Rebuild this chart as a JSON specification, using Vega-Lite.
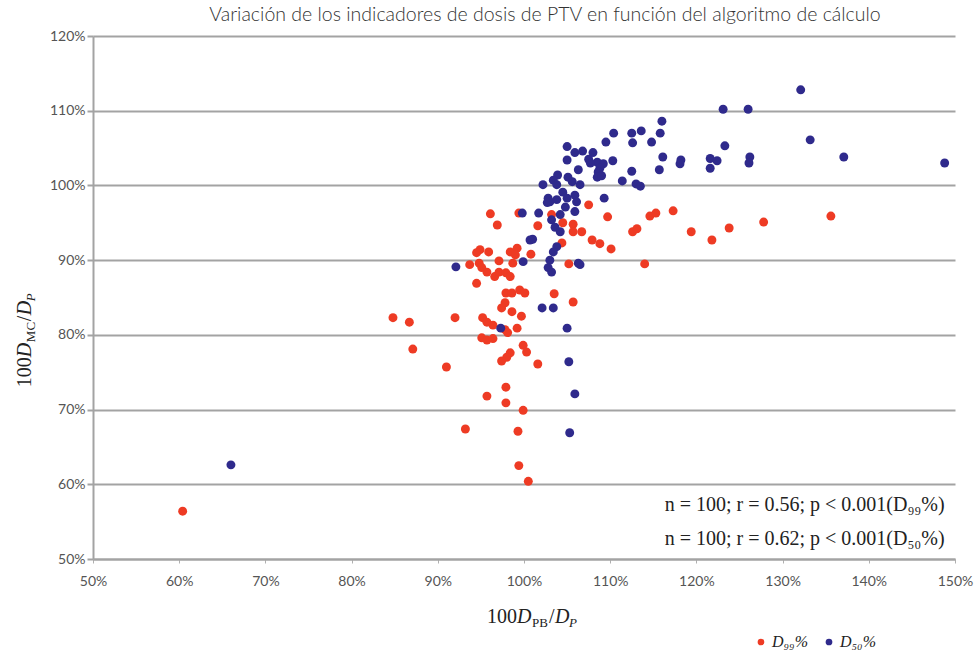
{
  "$schema": "https://vega.github.io/schema/vega-lite/v6.json",
  "width": 862,
  "height": 523,
  "autosize": {"type": "none"},
  "padding": {"left": 93, "top": 36, "right": 24, "bottom": 95},
  "background": "white",
  "title": {
    "text": "Variación de los indicadores de dosis de PTV en función del algoritmo de cálculo",
    "font": "Lato", "fontSize": 19.5, "fontWeight": 300, "color": "#333333",
    "anchor": "middle", "offset": 4, "dx": 21
  },
  "config": {
    "view": {"stroke": null},
    "axisX": {
      "grid": false, "tickCount": 10, "domainColor": "#a3a3a3", "domainWidth": 2,
      "tickColor": "#b0b0b0", "tickSize": 4, "labelPadding": 11,
      "labelFont": "Lato", "labelFontSize": 14, "labelColor": "#555555",
      "labelExpr": "datum.value + '%'", "labelFlush": false
    },
    "axisY": {
      "grid": true, "gridColor": "#a3a3a3", "gridWidth": 2, "tickCount": 7,
      "domainColor": "#a3a3a3", "domainWidth": 2,
      "tickColor": "#a3a3a3", "tickSize": 6, "tickWidth": 2, "labelPadding": 2,
      "labelFont": "Lato", "labelFontSize": 14, "labelColor": "#555555",
      "labelExpr": "datum.value + '%'"
    }
  },
  "layer": [
    {
      "data": {"values": [
        {"x": 60.4, "y": 56.4, "s": "D99%"},
        {"x": 84.8, "y": 82.3, "s": "D99%"},
        {"x": 86.7, "y": 81.7, "s": "D99%"},
        {"x": 87.1, "y": 78.1, "s": "D99%"},
        {"x": 91.0, "y": 75.7, "s": "D99%"},
        {"x": 92.0, "y": 82.3, "s": "D99%"},
        {"x": 93.2, "y": 67.4, "s": "D99%"},
        {"x": 96.1, "y": 96.2, "s": "D99%"},
        {"x": 96.9, "y": 94.7, "s": "D99%"},
        {"x": 99.4, "y": 96.3, "s": "D99%"},
        {"x": 101.6, "y": 94.6, "s": "D99%"},
        {"x": 103.2, "y": 96.1, "s": "D99%"},
        {"x": 104.5, "y": 95.0, "s": "D99%"},
        {"x": 105.7, "y": 94.8, "s": "D99%"},
        {"x": 105.7, "y": 93.8, "s": "D99%"},
        {"x": 106.7, "y": 93.8, "s": "D99%"},
        {"x": 107.5, "y": 97.4, "s": "D99%"},
        {"x": 109.7, "y": 95.8, "s": "D99%"},
        {"x": 107.9, "y": 92.7, "s": "D99%"},
        {"x": 108.8, "y": 92.2, "s": "D99%"},
        {"x": 110.1, "y": 91.5, "s": "D99%"},
        {"x": 104.4, "y": 92.3, "s": "D99%"},
        {"x": 112.6, "y": 93.8, "s": "D99%"},
        {"x": 113.1, "y": 94.2, "s": "D99%"},
        {"x": 114.6, "y": 95.9, "s": "D99%"},
        {"x": 115.3, "y": 96.3, "s": "D99%"},
        {"x": 117.3, "y": 96.6, "s": "D99%"},
        {"x": 119.4, "y": 93.8, "s": "D99%"},
        {"x": 114.0, "y": 89.5, "s": "D99%"},
        {"x": 121.8, "y": 92.7, "s": "D99%"},
        {"x": 123.8, "y": 94.3, "s": "D99%"},
        {"x": 127.8, "y": 95.1, "s": "D99%"},
        {"x": 135.6, "y": 95.9, "s": "D99%"},
        {"x": 94.9, "y": 91.4, "s": "D99%"},
        {"x": 95.9, "y": 91.1, "s": "D99%"},
        {"x": 94.5, "y": 91.0, "s": "D99%"},
        {"x": 98.4, "y": 91.1, "s": "D99%"},
        {"x": 99.2, "y": 91.6, "s": "D99%"},
        {"x": 99.0, "y": 90.7, "s": "D99%"},
        {"x": 100.8, "y": 90.8, "s": "D99%"},
        {"x": 97.1, "y": 89.9, "s": "D99%"},
        {"x": 98.7, "y": 89.6, "s": "D99%"},
        {"x": 93.7, "y": 89.4, "s": "D99%"},
        {"x": 94.8, "y": 89.6, "s": "D99%"},
        {"x": 95.1, "y": 89.0, "s": "D99%"},
        {"x": 95.7, "y": 88.4, "s": "D99%"},
        {"x": 96.6, "y": 87.8, "s": "D99%"},
        {"x": 97.1, "y": 88.4, "s": "D99%"},
        {"x": 97.9, "y": 88.3, "s": "D99%"},
        {"x": 98.4, "y": 87.8, "s": "D99%"},
        {"x": 94.5, "y": 86.9, "s": "D99%"},
        {"x": 105.2, "y": 89.5, "s": "D99%"},
        {"x": 97.9, "y": 85.6, "s": "D99%"},
        {"x": 98.6, "y": 85.6, "s": "D99%"},
        {"x": 99.5, "y": 86.0, "s": "D99%"},
        {"x": 100.1, "y": 85.6, "s": "D99%"},
        {"x": 103.5, "y": 85.5, "s": "D99%"},
        {"x": 105.7, "y": 84.4, "s": "D99%"},
        {"x": 97.8, "y": 84.3, "s": "D99%"},
        {"x": 97.4, "y": 83.6, "s": "D99%"},
        {"x": 98.6, "y": 83.1, "s": "D99%"},
        {"x": 99.7, "y": 82.5, "s": "D99%"},
        {"x": 95.2, "y": 82.3, "s": "D99%"},
        {"x": 95.7, "y": 81.7, "s": "D99%"},
        {"x": 96.4, "y": 81.3, "s": "D99%"},
        {"x": 97.8, "y": 80.7, "s": "D99%"},
        {"x": 98.1, "y": 80.3, "s": "D99%"},
        {"x": 99.2, "y": 80.9, "s": "D99%"},
        {"x": 95.1, "y": 79.6, "s": "D99%"},
        {"x": 95.7, "y": 79.3, "s": "D99%"},
        {"x": 96.4, "y": 79.5, "s": "D99%"},
        {"x": 99.9, "y": 78.6, "s": "D99%"},
        {"x": 100.3, "y": 77.7, "s": "D99%"},
        {"x": 98.4, "y": 77.6, "s": "D99%"},
        {"x": 98.0, "y": 77.0, "s": "D99%"},
        {"x": 97.4, "y": 76.5, "s": "D99%"},
        {"x": 101.6, "y": 76.1, "s": "D99%"},
        {"x": 97.9, "y": 73.0, "s": "D99%"},
        {"x": 95.7, "y": 71.8, "s": "D99%"},
        {"x": 97.9, "y": 70.9, "s": "D99%"},
        {"x": 99.9, "y": 69.9, "s": "D99%"},
        {"x": 99.3, "y": 67.1, "s": "D99%"},
        {"x": 99.4, "y": 62.5, "s": "D99%"},
        {"x": 100.5, "y": 60.4, "s": "D99%"},
        {"x": 116.0, "y": 108.6, "s": "D50%"},
        {"x": 110.4, "y": 107.0, "s": "D50%"},
        {"x": 109.5, "y": 105.8, "s": "D50%"},
        {"x": 112.5, "y": 107.0, "s": "D50%"},
        {"x": 113.6, "y": 107.3, "s": "D50%"},
        {"x": 115.8, "y": 107.0, "s": "D50%"},
        {"x": 112.6, "y": 105.7, "s": "D50%"},
        {"x": 114.8, "y": 105.8, "s": "D50%"},
        {"x": 105.0, "y": 105.2, "s": "D50%"},
        {"x": 105.9, "y": 104.4, "s": "D50%"},
        {"x": 106.8, "y": 104.6, "s": "D50%"},
        {"x": 108.0, "y": 104.4, "s": "D50%"},
        {"x": 107.5, "y": 103.5, "s": "D50%"},
        {"x": 108.5, "y": 103.1, "s": "D50%"},
        {"x": 109.2, "y": 102.9, "s": "D50%"},
        {"x": 108.8, "y": 102.3, "s": "D50%"},
        {"x": 108.6, "y": 101.8, "s": "D50%"},
        {"x": 108.5, "y": 101.1, "s": "D50%"},
        {"x": 105.0, "y": 103.4, "s": "D50%"},
        {"x": 110.3, "y": 103.3, "s": "D50%"},
        {"x": 106.3, "y": 102.1, "s": "D50%"},
        {"x": 116.1, "y": 103.8, "s": "D50%"},
        {"x": 118.2, "y": 103.4, "s": "D50%"},
        {"x": 118.1, "y": 102.9, "s": "D50%"},
        {"x": 115.7, "y": 102.1, "s": "D50%"},
        {"x": 112.5, "y": 101.9, "s": "D50%"},
        {"x": 111.4, "y": 100.6, "s": "D50%"},
        {"x": 113.0, "y": 100.2, "s": "D50%"},
        {"x": 113.5, "y": 99.9, "s": "D50%"},
        {"x": 109.3, "y": 98.3, "s": "D50%"},
        {"x": 103.9, "y": 101.4, "s": "D50%"},
        {"x": 103.4, "y": 100.7, "s": "D50%"},
        {"x": 105.1, "y": 101.1, "s": "D50%"},
        {"x": 102.2, "y": 100.1, "s": "D50%"},
        {"x": 103.8, "y": 100.1, "s": "D50%"},
        {"x": 105.6, "y": 100.5, "s": "D50%"},
        {"x": 106.5, "y": 100.1, "s": "D50%"},
        {"x": 104.5, "y": 99.1, "s": "D50%"},
        {"x": 105.9, "y": 98.7, "s": "D50%"},
        {"x": 102.8, "y": 98.3, "s": "D50%"},
        {"x": 103.0, "y": 97.8, "s": "D50%"},
        {"x": 103.8, "y": 98.1, "s": "D50%"},
        {"x": 105.0, "y": 98.3, "s": "D50%"},
        {"x": 106.1, "y": 97.8, "s": "D50%"},
        {"x": 104.8, "y": 97.1, "s": "D50%"},
        {"x": 105.9, "y": 96.5, "s": "D50%"},
        {"x": 99.8, "y": 96.3, "s": "D50%"},
        {"x": 101.7, "y": 96.3, "s": "D50%"},
        {"x": 103.2, "y": 95.4, "s": "D50%"},
        {"x": 104.2, "y": 96.1, "s": "D50%"},
        {"x": 103.6, "y": 94.4, "s": "D50%"},
        {"x": 104.2, "y": 93.8, "s": "D50%"},
        {"x": 101.0, "y": 92.8, "s": "D50%"},
        {"x": 100.7, "y": 92.7, "s": "D50%"},
        {"x": 103.8, "y": 91.8, "s": "D50%"},
        {"x": 103.4, "y": 91.1, "s": "D50%"},
        {"x": 103.0, "y": 90.0, "s": "D50%"},
        {"x": 99.9, "y": 89.8, "s": "D50%"},
        {"x": 92.1, "y": 89.1, "s": "D50%"},
        {"x": 102.8, "y": 89.0, "s": "D50%"},
        {"x": 103.2, "y": 88.4, "s": "D50%"},
        {"x": 106.3, "y": 89.6, "s": "D50%"},
        {"x": 106.5, "y": 89.4, "s": "D50%"},
        {"x": 102.1, "y": 83.6, "s": "D50%"},
        {"x": 103.4, "y": 83.6, "s": "D50%"},
        {"x": 97.3, "y": 80.9, "s": "D50%"},
        {"x": 105.0, "y": 80.9, "s": "D50%"},
        {"x": 105.2, "y": 76.4, "s": "D50%"},
        {"x": 105.9, "y": 72.1, "s": "D50%"},
        {"x": 105.3, "y": 66.9, "s": "D50%"},
        {"x": 132.1, "y": 112.8, "s": "D50%"},
        {"x": 123.1, "y": 110.2, "s": "D50%"},
        {"x": 126.0, "y": 110.2, "s": "D50%"},
        {"x": 133.2, "y": 106.1, "s": "D50%"},
        {"x": 123.3, "y": 105.3, "s": "D50%"},
        {"x": 121.6, "y": 103.6, "s": "D50%"},
        {"x": 122.4, "y": 103.3, "s": "D50%"},
        {"x": 121.6, "y": 102.3, "s": "D50%"},
        {"x": 126.2, "y": 103.8, "s": "D50%"},
        {"x": 126.1, "y": 103.0, "s": "D50%"},
        {"x": 137.1, "y": 103.8, "s": "D50%"},
        {"x": 148.8, "y": 103.0, "s": "D50%"},
        {"x": 66.0, "y": 62.6, "s": "D50%"},
        {"x": 102.7, "y": 97.7, "s": "D50%"},
        {"x": 107.7, "y": 103.0, "s": "D50%"},
        {"x": 109.0, "y": 101.3, "s": "D50%"}
      ]},
      "mark": {"type": "circle", "size": 80, "opacity": 1},
      "encoding": {
        "x": {"field": "x", "type": "quantitative", "title": null,
              "scale": {"domain": [50, 150], "nice": false, "zero": false}},
        "y": {"field": "y", "type": "quantitative", "title": null,
              "scale": {"domain": [50, 120], "nice": false, "zero": false}},
        "color": {"field": "s", "type": "nominal", "sort": ["D99%", "D50%"],
          "scale": {"domain": ["D99%", "D50%"], "range": ["#ee3b24", "#2f2a8c"]},
          "legend": {
            "title": null, "orient": "none", "direction": "horizontal",
            "legendX": 660, "legendY": 598, "padding": 0,
            "symbolType": "circle", "symbolSize": 45, "symbolStrokeWidth": 0,
            "labelFont": "Liberation Serif", "labelFontStyle": "italic", "labelFontSize": 16,
            "labelColor": "#222222", "labelOffset": 3, "columnPadding": 12,
            "labelExpr": "datum.label == 'D99%' ? 'D₉₉%' : 'D₅₀%'"
          }
        }
      }
    },
    {
      "data": {"values": [{}]},
      "mark": {"type": "text", "align": "right", "baseline": "alphabetic", "font": "Liberation Serif", "fontSize": 20, "color": "#222222",
               "text": "n = 100; r = 0.56; p < 0.001(D₉₉%)"},
      "encoding": {
        "x": {"datum": 148.8, "type": "quantitative", "title": null, "scale": {"domain": [50, 150], "nice": false, "zero": false}},
        "y": {"datum": 56.4, "type": "quantitative", "title": null, "scale": {"domain": [50, 120], "nice": false, "zero": false}}
      }
    },
    {
      "data": {"values": [{}]},
      "mark": {"type": "text", "align": "right", "baseline": "alphabetic", "font": "Liberation Serif", "fontSize": 20, "color": "#222222",
               "text": "n = 100; r = 0.62; p < 0.001(D₅₀%)"},
      "encoding": {
        "x": {"datum": 148.8, "type": "quantitative", "title": null, "scale": {"domain": [50, 150], "nice": false, "zero": false}},
        "y": {"datum": 51.9, "type": "quantitative", "title": null, "scale": {"domain": [50, 120], "nice": false, "zero": false}}
      }
    },
    {
      "data": {"values": [{}]},
      "encoding": {
        "x": {"datum": 95.7, "type": "quantitative", "title": null, "scale": {"domain": [50, 150], "nice": false, "zero": false}},
        "y": {"datum": 41.4, "type": "quantitative", "title": null, "scale": {"domain": [50, 120], "nice": false, "zero": false}}
      },
      "layer": [
        {"mark": {"type": "text", "align": "left", "baseline": "alphabetic", "font": "Liberation Serif", "fontSize": 20, "color": "#222222", "text": "100", "dx": 0}},
        {"mark": {"type": "text", "align": "left", "baseline": "alphabetic", "font": "Liberation Serif", "fontStyle": "italic", "fontSize": 20, "color": "#222222", "text": "D", "dx": 30}},
        {"mark": {"type": "text", "align": "left", "baseline": "alphabetic", "font": "Liberation Serif", "fontSize": 13, "color": "#222222", "text": "PB", "dx": 45, "dy": 4}},
        {"mark": {"type": "text", "align": "left", "baseline": "alphabetic", "font": "Liberation Serif", "fontSize": 20, "color": "#222222", "text": "/", "dx": 62}},
        {"mark": {"type": "text", "align": "left", "baseline": "alphabetic", "font": "Liberation Serif", "fontStyle": "italic", "fontSize": 20, "color": "#222222", "text": "D", "dx": 68}},
        {"mark": {"type": "text", "align": "left", "baseline": "alphabetic", "font": "Liberation Serif", "fontStyle": "italic", "fontSize": 13, "color": "#222222", "text": "P", "dx": 82, "dy": 4}}
      ]
    },
    {
      "data": {"values": [{}]},
      "encoding": {
        "x": {"datum": 42.8, "type": "quantitative", "title": null, "scale": {"domain": [50, 150], "nice": false, "zero": false}},
        "y": {"datum": 73.0, "type": "quantitative", "title": null, "scale": {"domain": [50, 120], "nice": false, "zero": false}}
      },
      "layer": [
        {"mark": {"type": "text", "angle": 270, "align": "left", "baseline": "alphabetic", "font": "Liberation Serif", "fontSize": 20, "color": "#222222", "text": "100", "dx": 0}},
        {"mark": {"type": "text", "angle": 270, "align": "left", "baseline": "alphabetic", "font": "Liberation Serif", "fontStyle": "italic", "fontSize": 20, "color": "#222222", "text": "D", "dx": 30}},
        {"mark": {"type": "text", "angle": 270, "align": "left", "baseline": "alphabetic", "font": "Liberation Serif", "fontSize": 13, "color": "#222222", "text": "MC", "dx": 45, "dy": 4}},
        {"mark": {"type": "text", "angle": 270, "align": "left", "baseline": "alphabetic", "font": "Liberation Serif", "fontSize": 20, "color": "#222222", "text": "/", "dx": 66}},
        {"mark": {"type": "text", "angle": 270, "align": "left", "baseline": "alphabetic", "font": "Liberation Serif", "fontStyle": "italic", "fontSize": 20, "color": "#222222", "text": "D", "dx": 72}},
        {"mark": {"type": "text", "angle": 270, "align": "left", "baseline": "alphabetic", "font": "Liberation Serif", "fontStyle": "italic", "fontSize": 13, "color": "#222222", "text": "P", "dx": 86, "dy": 4}}
      ]
    }
  ]
}
